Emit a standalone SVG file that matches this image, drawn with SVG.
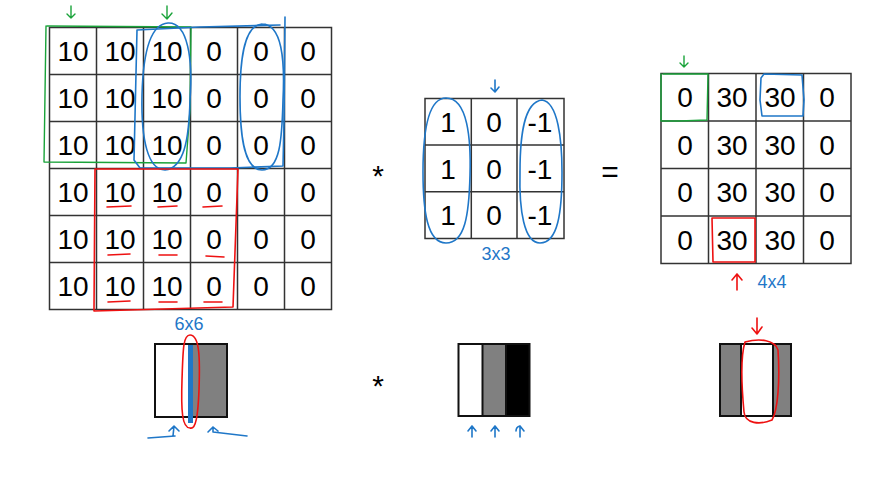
<svg xmlns="http://www.w3.org/2000/svg" width="880" height="478" viewBox="0 0 880 478">
<style>
.g{fill:#fff;stroke:#333;stroke-width:1.5}
.t{font-family:"Liberation Sans",Arial,sans-serif;font-size:28px;fill:#000;text-anchor:middle}
.op{font-family:"Liberation Sans",Arial,sans-serif;font-size:30px;fill:#000;text-anchor:middle}
.hb{fill:none;stroke:#1f77c8;stroke-width:1.6;stroke-linecap:round;stroke-linejoin:round}
.hr{fill:none;stroke:#ee1111;stroke-width:1.6;stroke-linecap:round;stroke-linejoin:round}
.hg{fill:none;stroke:#1aa33a;stroke-width:1.4;stroke-linecap:round;stroke-linejoin:round}
.lb{font-family:"Liberation Sans",Arial,sans-serif;font-size:18px;fill:#1f77c8;text-anchor:middle}
.img{stroke:#111;stroke-width:2}
</style>
<rect width="880" height="478" fill="#fff"/>

<g id="input-matrix">
<rect class="g" x="49.5" y="27.5" width="282" height="282"/>
<path d="M96.5 27.5V309.5M143.5 27.5V309.5M190.5 27.5V309.5M237.5 27.5V309.5M284.5 27.5V309.5M49.5 74.5H331.5M49.5 121.5H331.5M49.5 168.5H331.5M49.5 215.5H331.5M49.5 262.5H331.5" stroke="#333" stroke-width="1.5" fill="none"/>
<g class="t">
<text x="73" y="61">10</text><text x="120" y="61">10</text><text x="167" y="61">10</text><text x="214" y="61">0</text><text x="261" y="61">0</text><text x="308" y="61">0</text>
<text x="73" y="108">10</text><text x="120" y="108">10</text><text x="167" y="108">10</text><text x="214" y="108">0</text><text x="261" y="108">0</text><text x="308" y="108">0</text>
<text x="73" y="155">10</text><text x="120" y="155">10</text><text x="167" y="155">10</text><text x="214" y="155">0</text><text x="261" y="155">0</text><text x="308" y="155">0</text>
<text x="73" y="202">10</text><text x="120" y="202">10</text><text x="167" y="202">10</text><text x="214" y="202">0</text><text x="261" y="202">0</text><text x="308" y="202">0</text>
<text x="73" y="249">10</text><text x="120" y="249">10</text><text x="167" y="249">10</text><text x="214" y="249">0</text><text x="261" y="249">0</text><text x="308" y="249">0</text>
<text x="73" y="296">10</text><text x="120" y="296">10</text><text x="167" y="296">10</text><text x="214" y="296">0</text><text x="261" y="296">0</text><text x="308" y="296">0</text>
</g>
</g>

<g id="filter-matrix">
<rect class="g" x="425" y="98.5" width="139" height="140"/>
<path d="M471.3 98.5V238.5M517 98.5V238.5M425 145H564M425 191.7H564" stroke="#333" stroke-width="1.5" fill="none"/>
<g class="t">
<text x="448" y="132">1</text><text x="494" y="132">0</text><text x="540" y="132">-1</text>
<text x="448" y="179">1</text><text x="494" y="179">0</text><text x="540" y="179">-1</text>
<text x="448" y="225">1</text><text x="494" y="225">0</text><text x="540" y="225">-1</text>
</g>
</g>

<g id="output-matrix">
<rect class="g" x="661" y="73.5" width="190" height="190"/>
<path d="M708.5 73.5V263.5M756 73.5V263.5M803.5 73.5V263.5M661 121H851M661 168.5H851M661 216H851" stroke="#333" stroke-width="1.5" fill="none"/>
<g class="t">
<text x="685" y="107">0</text><text x="732" y="107">30</text><text x="780" y="107">30</text><text x="827" y="107">0</text>
<text x="685" y="155">0</text><text x="732" y="155">30</text><text x="780" y="155">30</text><text x="827" y="155">0</text>
<text x="685" y="202">0</text><text x="732" y="202">30</text><text x="780" y="202">30</text><text x="827" y="202">0</text>
<text x="685" y="250">0</text><text x="732" y="250">30</text><text x="780" y="250">30</text><text x="827" y="250">0</text>
</g>
</g>

<g id="operators">
<text class="op" x="378" y="186">*</text>
<text class="op" x="610" y="182">=</text>
<text class="op" x="378" y="396">*</text>
</g>

<g id="image-input">
<rect x="155" y="344" width="36" height="73" fill="#fff"/>
<rect x="191" y="344" width="36" height="73" fill="#808080"/>
<rect class="img" x="155" y="344" width="72" height="73" fill="none"/>
<rect x="188" y="345" width="5" height="78" fill="#1f77c8"/>
</g>

<g id="image-filter">
<rect x="458.5" y="344" width="24" height="72" fill="#fff"/>
<rect x="482.5" y="344" width="23.5" height="72" fill="#808080"/>
<rect x="506" y="344" width="23.5" height="72" fill="#000"/>
<rect class="img" x="458.5" y="344" width="71" height="72" fill="none"/>
<path d="M482.5 344V416M506 344V416" stroke="#111" stroke-width="2"/>
</g>

<g id="image-output">
<rect x="720" y="344" width="21" height="72" fill="#808080"/>
<rect x="741" y="344" width="32" height="72" fill="#fff"/>
<rect x="773" y="344" width="18" height="72" fill="#808080"/>
<rect class="img" x="720" y="344" width="71" height="72" fill="none"/>
<path d="M741 344V416M773 344V416" stroke="#111" stroke-width="2"/>
</g>

<g id="annotations">
<path class="hg" d="M47 26 L191 27 L190 110 L186 163 L44 162 L46 26"/>
<path class="hg" d="M71 6 V18 M67 14 L71 18 L75 14"/>
<path class="hg" d="M167 6 V19 M162 14 L167 19 L172 13"/>
<path class="hg" d="M684 56 V67 M680 63 L684 67 L688 63"/>
<path class="hg" d="M663 74 L708 74 L707 120 L680 121 L661 121 L661 74"/>
<path class="hb" d="M137 30 L200 27 L280 25 M285 17 L284 120 L283 166 L230 168 L140 168 L134 160 L137 30"/>
<path class="hb" d="M168 23 C188 22 193 60 190 100 C189 140 184 168 165 170 C148 170 141 140 142 95 C143 55 150 24 168 23"/>
<path class="hb" d="M262 24 C282 24 285 60 283 100 C282 140 280 170 262 170 C245 170 240 140 240 97 C240 55 245 25 262 24"/>
<path class="hb" d="M495 80 V91 M491 88 L495 92 L499 87"/>
<path class="hb" d="M446 98 C468 98 471 140 470 175 C469 215 465 243 446 243 C427 243 423 210 423 172 C423 132 428 98 446 98"/>
<path class="hb" d="M542 100 C558 102 562 140 562 172 C562 212 558 243 540 243 C524 243 519 210 520 172 C520 135 524 102 542 100"/>
<path class="hb" d="M764 74 L802 75 L804 100 L803 116 L762 116 L760 100 L761 78 Z"/>
<path class="hr" d="M95 169 L238 169 L233 307 L94 311 L95 169"/>
<path class="hr" d="M107 207 L131 206 M158 207 L177 206 M203 207 L222 206"/>
<path class="hr" d="M108 255 L130 254 M159 255 L177 255 M206 256 L224 257"/>
<path class="hr" d="M108 302 L130 301 M159 302 L177 302 M204 302 L222 302"/>
<path class="hr" d="M712 218 L755 218 L755 262 L713 262 Z"/>
<path class="hr" d="M737 290 V274 M732 280 L737 274 L742 280"/>
<path class="hr" d="M190 335 C200 335 200 360 199 390 C198 415 196 430 190 428 C182 428 181 410 182 380 C183 350 183 335 190 335"/>
<path class="hr" d="M745 342 C760 338 775 340 778 350 C780 380 778 410 772 420 C760 425 745 424 744 412 C741 380 741 355 745 342"/>
<path class="hr" d="M757 318 V334 M752 328 L757 334 L762 327"/>
<path class="hb" d="M148 438 L175 436 M173 436 L174 426 M169 431 L174 426 L179 431"/>
<path class="hb" d="M213 427 V432 L247 436 M208 432 L213 427 L218 431"/>
<path class="hb" d="M472 437 V426 M468 431 L472 426 L476 431"/>
<path class="hb" d="M495 437 V426 M491 431 L495 426 L499 431"/>
<path class="hb" d="M520 437 V426 C516 427 516 430 516 431 M520 426 L524 431"/>
<text class="lb" x="189" y="330">6x6</text>
<text class="lb" x="496" y="260">3x3</text>
<text class="lb" x="772" y="288">4x4</text>
</g>
</svg>
